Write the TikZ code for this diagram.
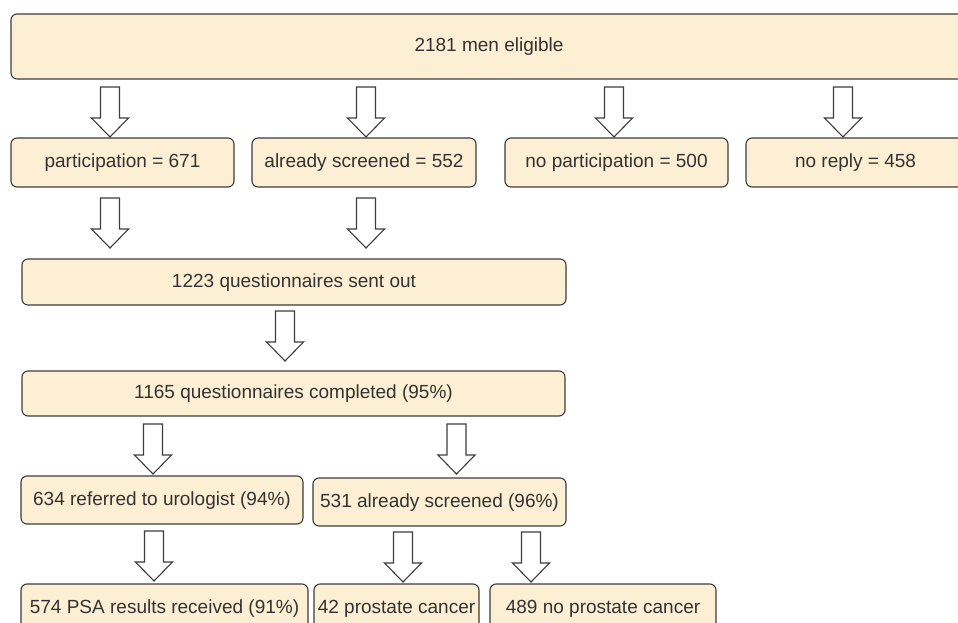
\documentclass[tikz,border=0pt]{standalone}
\usepackage{fontspec}
\setmainfont{Liberation Sans}
\definecolor{boxfill}{HTML}{FCEFD3}
\definecolor{boxline}{HTML}{3C3C3C}
\tikzset{
  stepbox/.style={draw=boxline, fill=boxfill, line width=1.1pt, rounded corners=6pt,
    inner sep=0pt, text height=14pt, text depth=3.4pt,
    font=\fontsize{19}{22}\selectfont, text=black!80},
  blockarrow/.pic={\draw[draw=boxline, fill=white, line width=1.1pt, line join=miter]
    (-9.5,0) -- (9.5,0) -- (9.5,31) -- (18.5,31) -- (0,50) -- (-18.5,31) -- (-9.5,31) -- cycle;}
}
\newcommand{\bx}[6]{\node[stepbox, minimum width=#4pt, minimum height=#5pt] (#1) at (#2,#3) {#6};}
\begin{document}
\begin{tikzpicture}[x=1pt,y=-1pt]
\useasboundingbox (0,0) rectangle (958,623);
\clip (0,0) rectangle (958,623);
\fill[white] (0,0) rectangle (958,623);
\bx{top}{489}{46.5}{956}{65}{2181 men eligible}
\bx{part}{122.5}{162.5}{223}{49}{participation = 671}
\bx{alr}{364}{162.5}{224}{49}{already screened = 552}
\bx{nopart}{616.5}{162.5}{223}{49}{no participation = 500}
\bx{norep}{855.5}{162.5}{219}{49}{no reply = 458}
\bx{sent}{294}{282}{544}{46}{1223 questionnaires sent out}
\bx{compl}{293.5}{393.5}{543}{45}{1165 questionnaires completed (95\%)}
\bx{uro}{162}{500}{282}{48}{634 referred to urologist (94\%)}
\bx{scr}{439.5}{502}{253}{48}{531 already screened (96\%)}
\bx{psa}{164.5}{608.5}{287}{49}{574 PSA results received (91\%)}
\bx{pc}{396.5}{608.5}{165}{49}{42 prostate cancer}
\bx{npc}{603}{608.5}{226}{49}{489 no prostate cancer}
\pic at (110,87) {blockarrow};
\pic at (366,87) {blockarrow};
\pic at (614,87) {blockarrow};
\pic at (843,87) {blockarrow};
\pic at (110,198) {blockarrow};
\pic at (366,198) {blockarrow};
\pic at (285,311) {blockarrow};
\pic at (153,424) {blockarrow};
\pic at (456.5,424) {blockarrow};
\pic at (154,531) {blockarrow};
\pic at (403,532) {blockarrow};
\pic at (531,532) {blockarrow};
\end{tikzpicture}
\end{document}
